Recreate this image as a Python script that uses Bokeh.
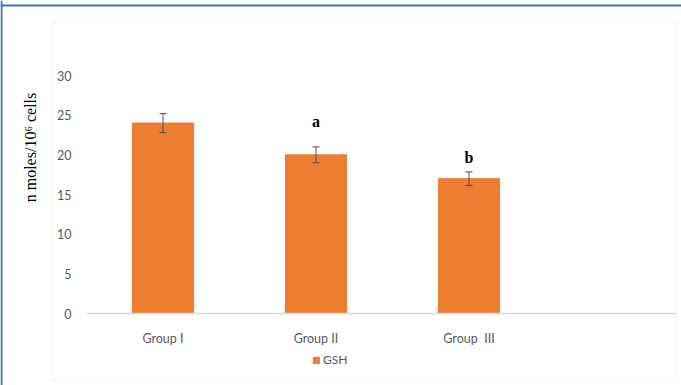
import math
from bokeh.plotting import figure
from bokeh.models import (ColumnDataSource, Range1d, FixedTicker, Whisker, Label,
                          Legend, LegendItem, BoxAnnotation, Span, LinearAxis)
from bokeh.core.properties import value
from bokeh.embed import file_html
from bokeh.resources import INLINE

# ---- data ----
groups = ["Group I", "Group II", "Group\u00a0 III"]
gsh = [24.0, 20.0, 17.0]
gsh_err = [1.2, 1.0, 0.85]
sig_letters = ["", "a", "b"]
y_ticks = [0, 5, 10, 15, 20, 25, 30]

W, H = 681, 385
# frame covers the whole canvas; helpers convert canvas pixels to data units
X0, XPX = 86.0, 153.0          # pixel of x=0.5, pixels per category
Y0, YPX = 313.0, 238.0 / 30.0  # pixel of y=0, pixels per unit


def px_x(px):
    return 0.5 + (px - X0) / XPX


def px_y(py):
    return (Y0 - py) / YPX


xpos = [1, 2, 3]
src = ColumnDataSource(dict(
    x=xpos, top=gsh,
    upper=[v + e for v, e in zip(gsh, gsh_err)],
    lower=[v - e for v, e in zip(gsh, gsh_err)],
    letter=sig_letters,
    ly=[v + e for v, e in zip(gsh, gsh_err)],
    loff=[0, -25, -14],
))

p = figure(width=W, height=H, output_backend="svg", toolbar_location=None,
           x_range=Range1d(px_x(0), px_x(W)), y_range=Range1d(px_y(H), px_y(0)),
           min_border=0, x_axis_location=None, y_axis_location=None)
p.grid.visible = False
p.background_fill_color = "white"
p.border_fill_color = "white"
p.outline_line_color = None

# light grey chart-area box
p.add_layout(BoxAnnotation(left=px_x(52), right=px_x(676), top=px_y(22), bottom=px_y(380),
                           fill_alpha=0, line_color="#e0e0e0", line_width=1.5,
                           level="underlay"))
# blue page border (top and left)
p.add_layout(Span(location=px_y(5), dimension="width", line_color="#4472C4", line_width=2))
p.add_layout(Span(location=px_x(1), dimension="height", line_color="#4472C4", line_width=2))

xa = LinearAxis(fixed_location=0, ticker=FixedTicker(ticks=xpos),
                major_label_overrides={i: g for i, g in zip(xpos, groups)},
                bounds=(0.5, px_x(676)))
xa.axis_line_color = "#d9d9d9"
xa.axis_line_width = 1.5
xa.major_tick_line_color = None
xa.minor_tick_line_color = None
xa.major_label_text_color = "#595959"
xa.major_label_text_font = "Lato"
xa.major_label_text_font_size = "12.5px"
xa.major_label_standoff = 11
p.add_layout(xa, "below")

ya = LinearAxis(fixed_location=0.5, ticker=FixedTicker(ticks=y_ticks))
ya.axis_line_color = None
ya.major_tick_line_color = None
ya.minor_tick_line_color = None
ya.major_label_text_color = "#595959"
ya.major_label_text_font = "Lato"
ya.major_label_text_font_size = "12.5px"
ya.major_label_standoff = 9
p.add_layout(ya, "left")

bars = p.vbar(x="x", top="top", width=0.4, bottom=0, source=src,
              fill_color="#ED7D31", line_color="#ED7D31")

wh = Whisker(base="x", upper="upper", lower="lower", source=src,
             line_color="#505050", line_width=1, level="overlay")
wh.upper_head.size = 7
wh.lower_head.size = 7
wh.upper_head.line_color = "#505050"
wh.lower_head.line_color = "#505050"
p.add_layout(wh)

p.text(x="x", y="ly", text="letter", y_offset="loff", source=src,
       text_font=value("Liberation Serif"), text_font_style="bold",
       text_font_size="16px", text_color="black",
       text_align="center", text_baseline="middle")

p.add_layout(Label(x=px_x(30), y=px_y(147), text="n moles/10\u2076 cells",
                   angle=math.pi / 2, text_align="center", text_baseline="middle",
                   text_font="Liberation Serif", text_font_size="16px",
                   text_color="black"))

legend = Legend(items=[LegendItem(label="GSH", renderers=[bars])],
                location=(312, 18), orientation="horizontal",
                glyph_width=8, glyph_height=8, label_standoff=3,
                padding=0, margin=0, border_line_color=None,
                background_fill_alpha=0,
                label_text_font="Lato", label_text_font_size="12px",
                label_text_color="#595959")
p.add_layout(legend)

open("out.html", "w").write(file_html(p, INLINE))
